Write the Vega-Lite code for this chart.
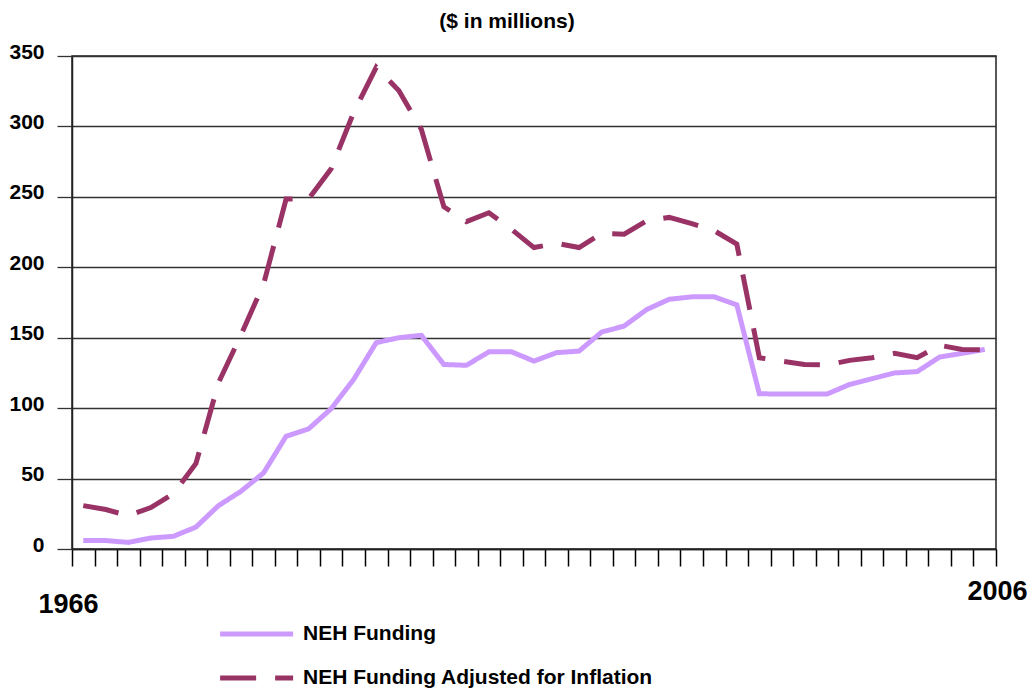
{
  "$schema": "https://vega.github.io/schema/vega-lite/v6.json",
  "width": 924,
  "height": 493,
  "autosize": "none",
  "padding": {"left": 72, "top": 56, "right": 35, "bottom": 147},
  "background": "white",
  "config": {
    "font": "Liberation Sans",
    "view": {"stroke": "#222222", "strokeWidth": 1.5}
  },
  "title": {
    "text": "($ in millions)",
    "fontSize": 21,
    "fontWeight": "bold",
    "font": "Liberation Sans",
    "color": "black",
    "anchor": "middle",
    "dx": -27,
    "offset": 9
  },
  "data": {
    "values": [
      {"year": 1966, "NEH Funding": 6, "NEH Funding Adjusted for Inflation": 30.8},
      {"year": 1967, "NEH Funding": 6, "NEH Funding Adjusted for Inflation": 28},
      {"year": 1968, "NEH Funding": 4.7, "NEH Funding Adjusted for Inflation": 23.7},
      {"year": 1969, "NEH Funding": 7.8, "NEH Funding Adjusted for Inflation": 29.4},
      {"year": 1970, "NEH Funding": 9, "NEH Funding Adjusted for Inflation": 39.3},
      {"year": 1971, "NEH Funding": 15.6, "NEH Funding Adjusted for Inflation": 60.7},
      {"year": 1972, "NEH Funding": 30.8, "NEH Funding Adjusted for Inflation": 118},
      {"year": 1973, "NEH Funding": 41, "NEH Funding Adjusted for Inflation": 152},
      {"year": 1974, "NEH Funding": 54, "NEH Funding Adjusted for Inflation": 188},
      {"year": 1975, "NEH Funding": 80, "NEH Funding Adjusted for Inflation": 248.4},
      {"year": 1976, "NEH Funding": 85.3, "NEH Funding Adjusted for Inflation": 248.5},
      {"year": 1977, "NEH Funding": 99.6, "NEH Funding Adjusted for Inflation": 270},
      {"year": 1978, "NEH Funding": 120.4, "NEH Funding Adjusted for Inflation": 310},
      {"year": 1979, "NEH Funding": 146.5, "NEH Funding Adjusted for Inflation": 342},
      {"year": 1980, "NEH Funding": 150, "NEH Funding Adjusted for Inflation": 325.5},
      {"year": 1981, "NEH Funding": 151.7, "NEH Funding Adjusted for Inflation": 298},
      {"year": 1982, "NEH Funding": 131, "NEH Funding Adjusted for Inflation": 243},
      {"year": 1983, "NEH Funding": 130.4, "NEH Funding Adjusted for Inflation": 232.4},
      {"year": 1984, "NEH Funding": 140, "NEH Funding Adjusted for Inflation": 238.7},
      {"year": 1985, "NEH Funding": 140, "NEH Funding Adjusted for Inflation": 227},
      {"year": 1986, "NEH Funding": 133.4, "NEH Funding Adjusted for Inflation": 214},
      {"year": 1987, "NEH Funding": 139.4, "NEH Funding Adjusted for Inflation": 217},
      {"year": 1988, "NEH Funding": 140.5, "NEH Funding Adjusted for Inflation": 214},
      {"year": 1989, "NEH Funding": 154, "NEH Funding Adjusted for Inflation": 224},
      {"year": 1990, "NEH Funding": 158.3, "NEH Funding Adjusted for Inflation": 223.5},
      {"year": 1991, "NEH Funding": 170, "NEH Funding Adjusted for Inflation": 233},
      {"year": 1992, "NEH Funding": 177.3, "NEH Funding Adjusted for Inflation": 235.4},
      {"year": 1993, "NEH Funding": 179, "NEH Funding Adjusted for Inflation": 231},
      {"year": 1994, "NEH Funding": 179, "NEH Funding Adjusted for Inflation": 226},
      {"year": 1995, "NEH Funding": 173.3, "NEH Funding Adjusted for Inflation": 216.4},
      {"year": 1996, "NEH Funding": 110.2, "NEH Funding Adjusted for Inflation": 135.8},
      {"year": 1997, "NEH Funding": 110, "NEH Funding Adjusted for Inflation": 133.4},
      {"year": 1998, "NEH Funding": 110, "NEH Funding Adjusted for Inflation": 131},
      {"year": 1999, "NEH Funding": 110, "NEH Funding Adjusted for Inflation": 130.6},
      {"year": 2000, "NEH Funding": 116.8, "NEH Funding Adjusted for Inflation": 133.9},
      {"year": 2001, "NEH Funding": 120.9, "NEH Funding Adjusted for Inflation": 135.8},
      {"year": 2002, "NEH Funding": 125, "NEH Funding Adjusted for Inflation": 138.9},
      {"year": 2003, "NEH Funding": 125.9, "NEH Funding Adjusted for Inflation": 135.8},
      {"year": 2004, "NEH Funding": 136.3, "NEH Funding Adjusted for Inflation": 144.6},
      {"year": 2005, "NEH Funding": 138.9, "NEH Funding Adjusted for Inflation": 141.7},
      {"year": 2006, "NEH Funding": 141.7, "NEH Funding Adjusted for Inflation": 141.5}
    ]
  },
  "transform": [
    {"fold": ["NEH Funding", "NEH Funding Adjusted for Inflation"], "as": ["series", "value"]}
  ],
  "mark": {"type": "line", "strokeWidth": 5, "strokeCap": "butt", "clip": false},
  "encoding": {
    "x": {
      "field": "year",
      "type": "quantitative",
      "scale": {"domain": [1965.5, 2006.5], "nice": false, "zero": false},
      "axis": {
        "title": null,
        "grid": false,
        "values": [1965.5, 1966.5, 1967.5, 1968.5, 1969.5, 1970.5, 1971.5, 1972.5, 1973.5, 1974.5, 1975.5, 1976.5, 1977.5, 1978.5, 1979.5, 1980.5, 1981.5, 1982.5, 1983.5, 1984.5, 1985.5, 1986.5, 1987.5, 1988.5, 1989.5, 1990.5, 1991.5, 1992.5, 1993.5, 1994.5, 1995.5, 1996.5, 1997.5, 1998.5, 1999.5, 2000.5, 2001.5, 2002.5, 2003.5, 2004.5, 2005.5, 2006.5],
        "labelExpr": "datum.value == 1965.5 ? '1966' : (datum.value == 2006.5 ? '2006' : '')",
        "labelFlush": false,
        "labelOverlap": false,
        "labelBound": false,
        "labelFont": "Liberation Sans",
        "labelFontSize": 27,
        "labelFontWeight": "bold",
        "labelColor": "black",
        "labelBaseline": "top",
        "labelAlign": "center",
        "labelPadding": {"condition": {"test": "datum.value < 1990", "value": 25}, "value": 12},
        "labelOffset": {"condition": {"test": "datum.value < 1990", "value": -4}, "value": 1},
        "tickSize": 17,
        "tickWidth": 1.5,
        "tickColor": "black",
        "domainColor": "#222222",
        "domainWidth": 1.5
      }
    },
    "y": {
      "field": "value",
      "type": "quantitative",
      "scale": {"domain": [0, 350], "nice": false},
      "axis": {
        "title": null,
        "values": [0, 50, 100, 150, 200, 250, 300, 350],
        "grid": true,
        "gridColor": "#333333",
        "gridWidth": 1.3,
        "tickSize": 15,
        "tickWidth": 1.3,
        "tickColor": "#333333",
        "domainColor": "#222222",
        "domainWidth": 1.5,
        "labelFont": "Liberation Sans",
        "labelFontSize": 21,
        "labelFontWeight": "bold",
        "labelColor": "black",
        "labelPadding": 13,
        "labelBaseline": "alphabetic",
        "labelOffset": 2
      }
    },
    "color": {
      "field": "series",
      "type": "nominal",
      "scale": {"domain": ["NEH Funding", "NEH Funding Adjusted for Inflation"], "range": ["#CC99FF", "#993366"]},
      "legend": {
        "title": null,
        "orient": "none",
        "legendX": 200,
        "legendY": 566,
        "direction": "vertical",
        "symbolType": "M-7,0H1",
        "symbolSize": 333,
        "symbolStrokeWidth": 5,
        "labelFont": "Liberation Sans",
        "labelFontSize": 21,
        "labelFontWeight": "bold",
        "labelColor": "black",
        "labelOffset": 7,
        "labelLimit": 500,
        "rowPadding": 22
      }
    },
    "strokeDash": {
      "field": "series",
      "type": "nominal",
      "scale": {"domain": ["NEH Funding", "NEH Funding Adjusted for Inflation"], "range": [[1, 0], [36, 19]]},
      "legend": {
        "title": null,
        "orient": "none",
        "legendX": 200,
        "legendY": 566,
        "direction": "vertical",
        "symbolType": "M-7,0H1",
        "symbolSize": 333,
        "symbolStrokeWidth": 5,
        "labelFont": "Liberation Sans",
        "labelFontSize": 21,
        "labelFontWeight": "bold",
        "labelColor": "black",
        "labelOffset": 7,
        "labelLimit": 500,
        "rowPadding": 22
      }
    }
  }
}
